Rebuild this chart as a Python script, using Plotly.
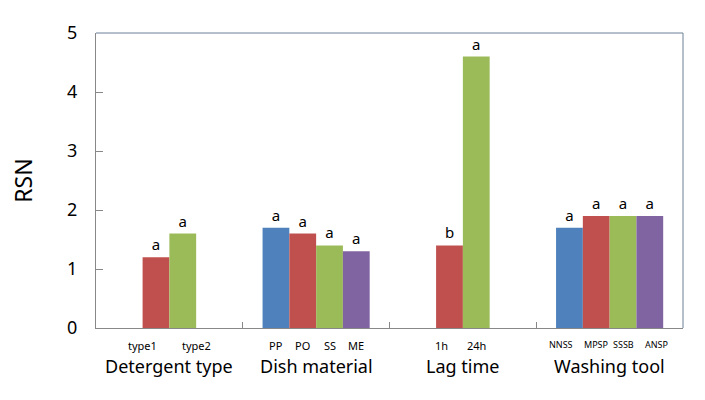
import plotly.graph_objects as go

groups = ["Detergent type", "Dish material", "Lag time", "Washing tool"]
series_colors = ["#4F81BD", "#C0504D", "#9BBB59", "#8064A2"]
# values per series (blue, red, green, purple) for each group; None = no bar
blue = [None, 1.7, None, 1.7]
red = [1.2, 1.6, 1.4, 1.9]
green = [1.6, 1.4, 4.6, 1.9]
purple = [None, 1.3, None, 1.9]
blue_letters = ["", "a", "", "a"]
red_letters = ["a", "a", "b", "a"]
green_letters = ["a", "a", "a", "a"]
purple_letters = ["", "a", "", "a"]
# sub-category labels per group
sub_labels = [["type1", "type2"], ["PP", "PO", "SS", "ME"], ["1h", "24h"], ["NNSS", "MPSP", "SSSB", "ANSP"]]

series = [blue, red, green, purple]
letters = [blue_letters, red_letters, green_letters, purple_letters]

# layout: slot position (0..3 across the four bar slots) where each sub label sits
label_slots = [[0.5, 2.5], [0, 1, 2, 3], [0.7, 2], [-0.3, 1, 2, 3.25]]

FONT = "Noto Sans, sans-serif"
bargap = 0.27
xs = list(range(len(groups)))

fig = go.Figure()
for i, (vals, lets, col) in enumerate(zip(series, letters, series_colors)):
    fig.add_trace(go.Bar(
        x=xs, y=vals, marker=dict(color=col, line=dict(width=0)),
        text=lets, textposition="outside", cliponaxis=False,
        textfont=dict(family=FONT, size=15, color="black"),
        showlegend=False,
    ))

nslots = len(series)
slot = (1 - bargap) / nslots
annotations = []
for g, (labs, slots) in enumerate(zip(sub_labels, label_slots)):
    for lab, s in zip(labs, slots):
        small = len(lab) >= 4 and lab.isupper()
        annotations.append(dict(
            x=g + (s - (nslots - 1) / 2) * slot, y=0, xref="x", yref="y",
            text=lab, showarrow=False, yanchor="top", yshift=-8,
            font=dict(family=FONT, size=9 if small else 11, color="black"),
        ))
for g, name in enumerate(groups):
    annotations.append(dict(
        x=g, y=0, xref="x", yref="y", text=name, showarrow=False,
        yanchor="top", yshift=-24,
        font=dict(family=FONT, size=18, color="black"),
    ))

fig.update_layout(
    width=705, height=400,
    margin=dict(l=96, r=22, t=33, b=72),
    paper_bgcolor="white", plot_bgcolor="white",
    barmode="group", bargap=bargap, bargroupgap=0,
    annotations=annotations,
    shapes=[
        dict(type="line", xref="paper", yref="paper", x0=0, x1=1, y0=1, y1=1,
             line=dict(color="#6C8097", width=1)),
        dict(type="line", xref="paper", yref="paper", x0=1, x1=1, y0=0, y1=1,
             line=dict(color="#6C8097", width=1)),
    ],
    xaxis=dict(
        range=[-0.5, len(groups) - 0.5], tickvals=[0.5, 1.5, 2.5],
        showticklabels=False, ticks="inside", ticklen=6, tickcolor="#888888",
        showline=True, linecolor="#888888", linewidth=1, showgrid=False, zeroline=False,
    ),
    yaxis=dict(
        range=[0, 5], tickvals=[0, 1, 2, 3, 4, 5], ticks="inside", ticklen=7,
        tickcolor="#888888", showline=True, linecolor="#888888", linewidth=1,
        showgrid=False, zeroline=False, ticklabelstandoff=14,
        tickfont=dict(family=FONT, size=18, color="black"),
        title=dict(text="RSN", font=dict(family=FONT, size=23, color="black"), standoff=28),
    ),
)

fig.write_html("out.html")
